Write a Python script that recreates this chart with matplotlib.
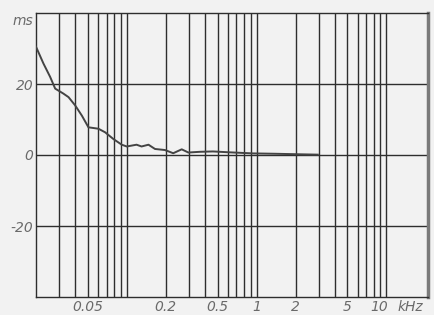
import matplotlib
matplotlib.use("Agg")
import matplotlib.pyplot as plt
import numpy as np

# data (frequency in kHz, group delay in ms)
freq_khz = [0.020, 0.0228, 0.0257, 0.0281, 0.0325, 0.0356, 0.040, 0.0451, 0.0507,
            0.0605, 0.0681, 0.0789, 0.0915, 0.100, 0.119, 0.130, 0.147, 0.165,
            0.197, 0.228, 0.265, 0.298, 0.366, 0.461, 0.623, 0.937, 1.38, 2.15, 2.96]
delay_ms = [30.5, 25.8, 22.0, 18.7, 17.3, 16.3, 14.0, 11.1, 7.8,
            7.4, 6.4, 4.5, 2.9, 2.4, 2.9, 2.4, 2.9, 1.7,
            1.4, 0.5, 1.6, 0.7, 0.9, 1.0, 0.75, 0.45, 0.35, 0.2, 0.1]

x_grid = [0.03, 0.04, 0.05, 0.06, 0.07, 0.08, 0.09, 0.1,
          0.2, 0.3, 0.4, 0.5, 0.6, 0.7, 0.8, 0.9, 1,
          2, 3, 4, 5, 6, 7, 8, 9, 10]
y_grid = [-20, 0, 20]
x_ticks = [0.05, 0.2, 0.5, 1, 2, 5]
x_ticklabels = ["0.05", "0.2", "0.5", "1", "2", "5"]
y_ticks = [-20, 0, 20]
y_ticklabels = ["-20", "0", "20"]

bg = "#f2f2f2"
gridc = "#2e2e2e"
textc = "#6a6a6a"

fig = plt.figure(figsize=(4.34, 3.15), dpi=100, facecolor=bg)
ax = fig.add_axes([36/434, 18/315, (428-36)/434, (297-13)/315])
ax.set_facecolor(bg)
ax.set_xscale("log")
ax.set_xlim(0.02, 20.9)
ax.set_ylim(-40, 40)

for xv in x_grid:
    ax.axvline(xv, color=gridc, lw=1.0, zorder=1)
for yv in y_grid:
    ax.axhline(yv, color=gridc, lw=1.0, zorder=1)

ax.plot(freq_khz, delay_ms, color="#444444", lw=1.4, zorder=3)

for s in ["left", "top", "bottom"]:
    ax.spines[s].set_color(gridc)
    ax.spines[s].set_linewidth(1.0)
ax.spines["right"].set_color("#7a7a7a")
ax.spines["right"].set_linewidth(2.5)

font = dict(family="DejaVu Sans", style="italic", color=textc, size=10)
ax.set_xticks(x_ticks)
ax.set_xticklabels(x_ticklabels, **font)
ax.xaxis.set_minor_locator(matplotlib.ticker.NullLocator())
ax.set_yticks(y_ticks)
ax.set_yticklabels(y_ticklabels, **font)
ax.tick_params(axis="x", length=0, pad=2)
ax.tick_params(axis="y", length=0, pad=2)

xt = ax.get_xaxis_transform()
ax.annotate("10", xy=(8.8, 0), xycoords=xt, xytext=(0, -2),
            textcoords="offset points", ha="center", va="top", **font)
ax.annotate("kHz", xy=(15.4, 0), xycoords=xt, xytext=(0, -2),
            textcoords="offset points", ha="center", va="top", **font)
ax.text(-0.006, 37.7, "ms", ha="right", va="center",
        transform=ax.get_yaxis_transform(), **font)

fig.savefig("out.png", dpi=100, facecolor=bg)
